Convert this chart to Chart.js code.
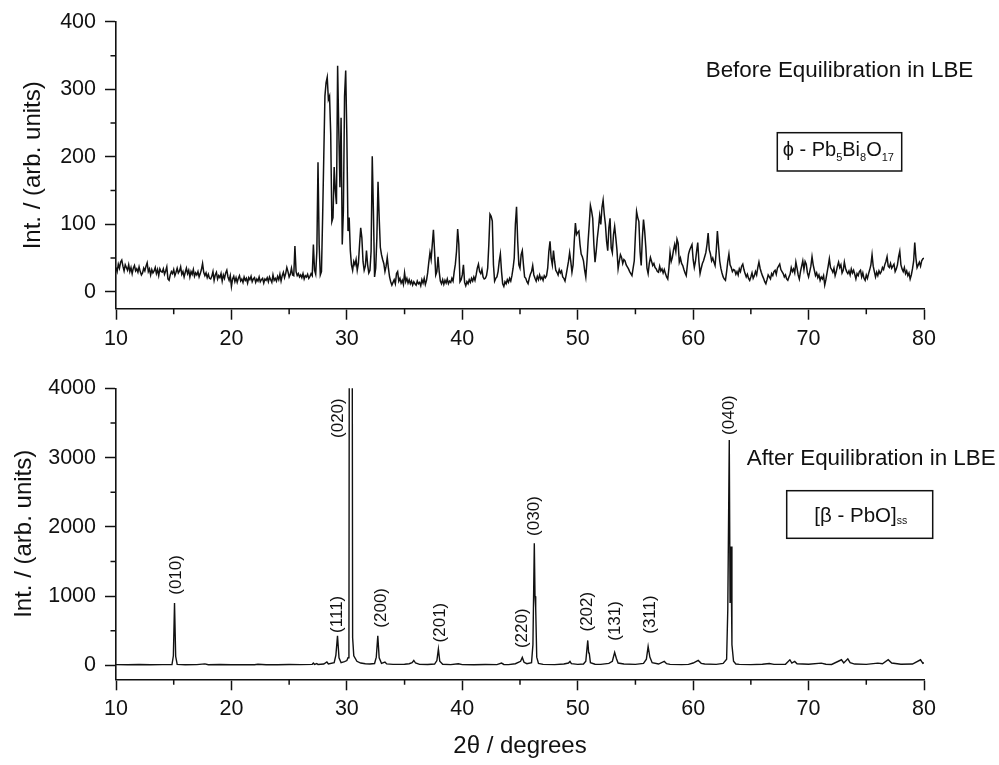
<!DOCTYPE html>
<html>
<head>
<meta charset="utf-8">
<script src="https://cdn.jsdelivr.net/npm/chart.js@4.4.1/dist/chart.umd.min.js"></script>
<style>
  html, body { margin: 0; padding: 0; background: #fff; }
  #wrap { position: relative; width: 999px; height: 765px; }
  canvas { position: absolute; left: 0; }
  #topChart { top: 0; }
  #bottomChart { top: 360px; }
</style>
</head>
<body>
<div id="wrap">
  <canvas id="topChart" width="999" height="360"></canvas>
  <canvas id="bottomChart" width="999" height="405"></canvas>
</div>
<script>
const FONT = "'Liberation Sans', Arial, Helvetica, sans-serif";
const INK = '#111';

// tick values
const angleTicks = [10, 20, 30, 40, 50, 60, 70, 80];
const beforeTicks = [0, 100, 200, 300, 400];
const afterTicks = [0, 1000, 2000, 3000, 4000];

// before equilibration: one reading every 0.1 degree from 10 to 80
const beforeStart = 10;
const beforeStep = 0.1;
const beforeCounts = [
  36,30,41,35,44,47,38,31,40,36,   // 10
  32,40,30,36,27,35,39,31,34,29,
  37,30,25,28,35,31,38,43,30,34,
  25,33,28,31,36,27,33,24,34,30,
  29,34,26,31,37,19,17,25,30,27,
  33,24,29,35,28,31,37,26,30,22,   // 15
  29,35,27,32,22,30,26,33,23,28,
  25,30,22,27,33,42,29,24,28,21,
  26,20,19,23,30,17,25,29,19,24,
  21,27,16,25,20,28,32,22,17,24,
  8,19,23,15,21,14,20,24,16,19,    // 20
  14,22,17,20,13,21,18,23,15,19,
  21,14,19,16,22,15,18,20,13,19,
  17,21,15,22,18,14,25,17,20,16,
  23,18,26,16,24,29,21,27,36,30,
  22,26,35,25,24,68,30,24,27,22,   // 25
  25,21,27,19,24,22,26,20,23,27,
  24,70,32,26,60,192,70,25,30,110,
  200,290,310,318,285,290,235,104,110,185,
  150,130,335,240,155,258,70,120,290,328,
  230,90,110,61,40,32,45,40,48,32, // 30
  42,70,95,80,45,32,38,61,40,28,
  32,60,201,120,22,35,80,163,110,66,
  55,48,42,30,38,51,35,22,15,10,
  14,18,12,27,30,16,20,13,17,11,
  28,15,20,13,18,12,16,10,15,12,   // 35
  10,16,12,14,9,18,13,20,11,17,
  28,44,58,48,70,92,60,25,30,52,
  30,16,12,18,11,17,13,19,12,16,
  14,20,16,30,41,60,93,70,15,18,
  25,40,14,9,15,12,18,14,20,16,    // 40
  22,17,25,35,41,30,27,33,22,19,
  20,24,35,70,115,112,105,40,16,20,
  22,30,45,56,30,12,8,15,12,18,
  14,20,16,24,35,50,100,126,75,40,
  35,55,61,40,22,20,15,12,20,26,   // 45
  30,39,25,20,16,23,18,25,19,22,
  17,24,21,24,35,60,75,50,40,61,
  45,32,29,25,33,28,31,22,20,16,
  25,35,45,58,45,29,40,75,102,85,
  88,90,70,56,52,46,32,22,45,75,   // 50
  100,128,120,109,70,44,60,80,95,113,
  100,125,136,115,100,75,61,95,109,65,
  58,85,97,80,62,34,45,55,51,42,
  48,46,40,37,34,30,27,24,35,46,
  85,119,110,104,60,39,80,107,90,66, // 55
  35,27,42,51,45,39,42,36,34,30,
  29,38,31,34,28,33,27,22,19,35,
  58,45,51,62,70,60,78,72,44,50,
  42,39,33,28,24,40,56,62,66,70,
  48,36,45,60,73,45,27,35,42,46,   // 60
  52,58,70,87,62,56,46,50,44,39,
  60,90,68,46,35,28,22,19,17,30,
  45,56,40,36,30,33,32,26,30,25,
  34,30,38,41,33,27,22,26,20,17,
  22,28,20,24,30,25,36,44,35,29,   // 65
  24,20,15,12,18,25,22,19,27,24,
  30,32,26,35,38,41,33,30,27,22,
  25,19,17,22,26,36,30,34,28,44,
  35,25,19,30,38,46,33,45,41,28,
  22,30,38,52,40,32,24,28,21,25,   // 70
  17,22,19,24,10,18,28,38,49,36,
  33,29,35,24,30,38,44,36,40,28,
  32,44,35,30,27,31,25,34,28,32,
  26,19,27,24,30,32,22,28,20,17,
  25,20,27,33,40,55,38,30,22,29,   // 75
  24,31,27,30,36,33,40,45,52,38,
  36,42,35,38,41,30,34,40,52,60,
  40,34,30,36,27,31,24,28,19,25,
  34,45,73,50,36,40,44,38,46,49,
  50                               // 80
];

// after equilibration: angle / intensity readings
const afterAngles = [
  10, 11, 12, 13, 14, 14.85, 14.97, 15.07, 15.17, 15.3, 16, 17, 17.7, 18, 19, 20, 21, 22, 22.3, 23, 24, 25, 26,
  27, 27.1, 27.2, 27.4, 27.5, 28, 28.27, 28.4, 28.9, 29.05, 29.19, 29.32, 29.5, 29.8, 30.0, 30.1, 30.18,
  30.24, 30.36, 30.43, 30.5, 30.6, 30.87, 31.2, 31.6, 32.0, 32.4, 32.55, 32.68, 32.8, 33.0, 33.3, 33.45,
  34, 35, 35.4, 35.65, 35.8, 35.95, 36.3, 37, 37.6, 37.8, 37.93, 38.05, 38.3, 39, 39.66, 40, 41, 42, 43,
  43.4, 43.6, 44, 44.6, 45.05, 45.2, 45.35, 45.6, 46.0, 46.12, 46.24, 46.3, 46.36, 46.45, 46.6, 47, 48,
  48.8, 49.2, 49.33, 49.45, 50, 50.5, 50.7, 50.87, 50.95, 51.0, 51.1, 51.5, 52, 52.7, 53.0, 53.2, 53.35,
  53.5, 54, 55, 55.7, 55.95, 56.1, 56.25, 56.45, 57, 57.5, 57.7, 58, 59, 59.6, 60.0, 60.44, 60.7, 61, 62,
  62.6, 62.9, 63.0, 63.13, 63.2, 63.28, 63.36, 63.5, 63.7, 64, 65, 66, 66.6, 67, 68, 68.38, 68.55, 68.8,
  69, 70, 71.1, 71.5, 72, 72.85, 73.05, 73.4, 73.6, 74, 75, 76.0, 76.4, 76.9, 77.2, 78, 79, 79.7, 79.9, 80
];
const afterCounts = [
  12, 10, 14, 9, 12, 12, 140, 900, 130, 15, 10, 12, 22, 11, 13, 9, 12, 10, 18, 11, 10, 14, 12,
  16, 35, 15, 28, 14, 20, 50, 22, 40, 150, 428, 110, 40, 55, 70, 110, 300,
  9000, 12000, 9000, 400, 140, 60, 35, 25, 20, 28, 120, 428, 110, 30, 50, 22,
  15, 18, 25, 40, 72, 35, 15, 14, 20, 70, 236, 60, 18, 12, 25, 12, 10, 14, 12,
  34, 14, 12, 25, 60, 116, 45, 25, 40, 300, 1765, 1000, 828, 120, 30, 15, 12,
  20, 35, 58, 25, 15, 20, 60, 361, 180, 178, 40, 18, 15, 30, 60, 188, 100,
  35, 20, 15, 30, 90, 274, 120, 40, 20, 58, 25, 15, 12, 15, 35, 72, 30, 20, 15,
  30, 90, 800, 3255, 900, 1716, 300, 60, 20, 15, 12, 18, 28, 15, 18, 82, 35, 58,
  25, 18, 34, 18, 14, 82, 35, 96, 40, 20, 16, 34, 25, 82, 35, 18, 20, 82, 30, 40
];

// reflection labels of the lower pattern
const hklLabels = ['(010)', '(111)', '(020)', '(200)', '(201)', '(220)', '(030)', '(202)', '(131)', '(311)', '(040)'];
const hklAngles = [15.22, 29.2, 29.27, 32.97, 38.08, 45.22, 46.23, 50.85, 53.3, 56.3, 63.16];
const hklLevels = [1020, 470, 3283, 545, 332, 250, 1870, 490, 356, 457, 3327];

const beforePoints = beforeCounts.map((c, i) => ({ x: +(beforeStart + i * beforeStep).toFixed(2), y: c }));
const afterPoints = afterAngles.map((a, i) => ({ x: a, y: afterCounts[i] }));

// Origin style half-step ticks
const minorTicks = {
  id: 'minorTicks',
  afterDraw(chart) {
    const { ctx, chartArea, scales } = chart;
    ctx.save();
    ctx.strokeStyle = INK;
    ctx.lineWidth = 1.5;
    ctx.beginPath();
    const xs = scales.x.ticks.map(t => t.value);
    for (let i = 0; i < xs.length - 1; i++) {
      const px = scales.x.getPixelForValue((xs[i] + xs[i + 1]) / 2);
      ctx.moveTo(px, chartArea.bottom);
      ctx.lineTo(px, chartArea.bottom + 5.5);
    }
    const ys = scales.y.ticks.map(t => t.value);
    for (let i = 0; i < ys.length - 1; i++) {
      const py = scales.y.getPixelForValue((ys[i] + ys[i + 1]) / 2);
      ctx.moveTo(chartArea.left, py);
      ctx.lineTo(chartArea.left - 5.5, py);
    }
    ctx.stroke();
    ctx.restore();
  }
};

function drawRich(ctx, parts, x, y, size, subSize, subDrop) {
  ctx.textAlign = 'left';
  ctx.textBaseline = 'alphabetic';
  for (const [txt, sub] of parts) {
    ctx.font = (sub ? subSize : size) + 'px ' + FONT;
    ctx.fillText(txt, x, sub ? y + subDrop : y);
    x += ctx.measureText(txt).width;
  }
}

function xAxis(height, title) {
  return {
    type: 'linear',
    min: 10,
    max: 80,
    ticks: { color: INK, font: { family: FONT, size: 21.5 }, padding: 6, maxRotation: 0, callback: v => String(v) },
    grid: { drawOnChartArea: false, drawTicks: true, tickLength: 11, tickWidth: 1.5, color: INK },
    border: { display: true, color: INK, width: 1.6 },
    title: title
      ? { display: true, text: title, color: INK, font: { family: FONT, size: 24 }, padding: { top: 0, bottom: 4 } }
      : { display: false },
    afterBuildTicks: s => { s.ticks = angleTicks.map(v => ({ value: v })); },
    afterFit: s => { s.height = height; }
  };
}

function yAxis(min, max, tickValues, titlePad) {
  return {
    type: 'linear',
    min: min,
    max: max,
    ticks: { color: INK, font: { family: FONT, size: 21.5 }, padding: 9, callback: v => String(v) },
    grid: { drawOnChartArea: false, drawTicks: true, tickLength: 11, tickWidth: 1.5, color: INK },
    border: { display: true, color: INK, width: 1.6 },
    title: { display: true, text: 'Int. / (arb. units)', color: INK, font: { family: FONT, size: 24 }, padding: { top: titlePad, bottom: 0 } },
    afterBuildTicks: s => { s.ticks = tickValues.map(v => ({ value: v })); },
    afterFit: s => { s.width = 116; }
  };
}

const topNotes = {
  id: 'topNotes',
  afterDraw(chart) {
    const ctx = chart.ctx;
    ctx.save();
    ctx.fillStyle = INK;
    ctx.font = '22.4px ' + FONT;
    ctx.fillText('Before Equilibration in LBE', 705.7, 76.7);
    ctx.strokeStyle = INK;
    ctx.lineWidth = 1.5;
    ctx.strokeRect(777.3, 132.7, 124.4, 38.3);
    drawRich(ctx, [['\u03D5 - Pb', false], ['5', true], ['Bi', false], ['8', true], ['O', false], ['17', true]],
      782.7, 156, 20, 11, 4.7);
    ctx.restore();
  }
};

const bottomNotes = {
  id: 'bottomNotes',
  afterDraw(chart) {
    const { ctx, scales } = chart;
    ctx.save();
    ctx.fillStyle = INK;
    ctx.font = '22.4px ' + FONT;
    ctx.fillText('After Equilibration in LBE', 746.7, 105);
    ctx.strokeStyle = INK;
    ctx.lineWidth = 1.5;
    ctx.strokeRect(786.7, 130.7, 146, 47.6);
    drawRich(ctx, [['[\u03B2 - PbO]', false], ['ss', true]], 814.3, 161.7, 20.5, 10.5, 2.5);

    ctx.font = '17px ' + FONT;
    ctx.textAlign = 'left';
    ctx.textBaseline = 'middle';
    hklLabels.forEach((lab, i) => {
      const px = scales.x.getPixelForValue(hklAngles[i]);
      const py = scales.y.getPixelForValue(hklLevels[i]);
      ctx.save();
      ctx.translate(px, py);
      ctx.rotate(-Math.PI / 2);
      ctx.fillText(lab, 0, 0);
      ctx.restore();
    });
    ctx.restore();
  }
};

function lineSet(points, width) {
  return {
    data: points,
    borderColor: INK,
    borderWidth: width,
    pointRadius: 0,
    tension: 0,
    fill: false
  };
}

new Chart(document.getElementById('topChart'), {
  type: 'line',
  data: { datasets: [lineSet(beforePoints, 1.5)] },
  options: {
    responsive: false,
    animation: false,
    layout: { padding: { top: 17, right: 75, bottom: 0, left: 0 } },
    plugins: { legend: { display: false }, tooltip: { enabled: false } },
    scales: {
      x: xAxis(51.3, null),
      y: yAxis(-25, 400, beforeTicks, 18.6)
    }
  },
  plugins: [minorTicks, topNotes]
});

new Chart(document.getElementById('bottomChart'), {
  type: 'line',
  data: { datasets: [lineSet(afterPoints, 1.4)] },
  options: {
    responsive: false,
    animation: false,
    layout: { padding: { top: 28.3, right: 75, bottom: 0, left: 0 } },
    plugins: { legend: { display: false }, tooltip: { enabled: false } },
    scales: {
      x: xAxis(85.7, '2\u03B8 / degrees'),
      y: yAxis(-200, 4000, afterTicks, 9.6)
    }
  },
  plugins: [minorTicks, bottomNotes]
});
</script>
</body>
</html>
